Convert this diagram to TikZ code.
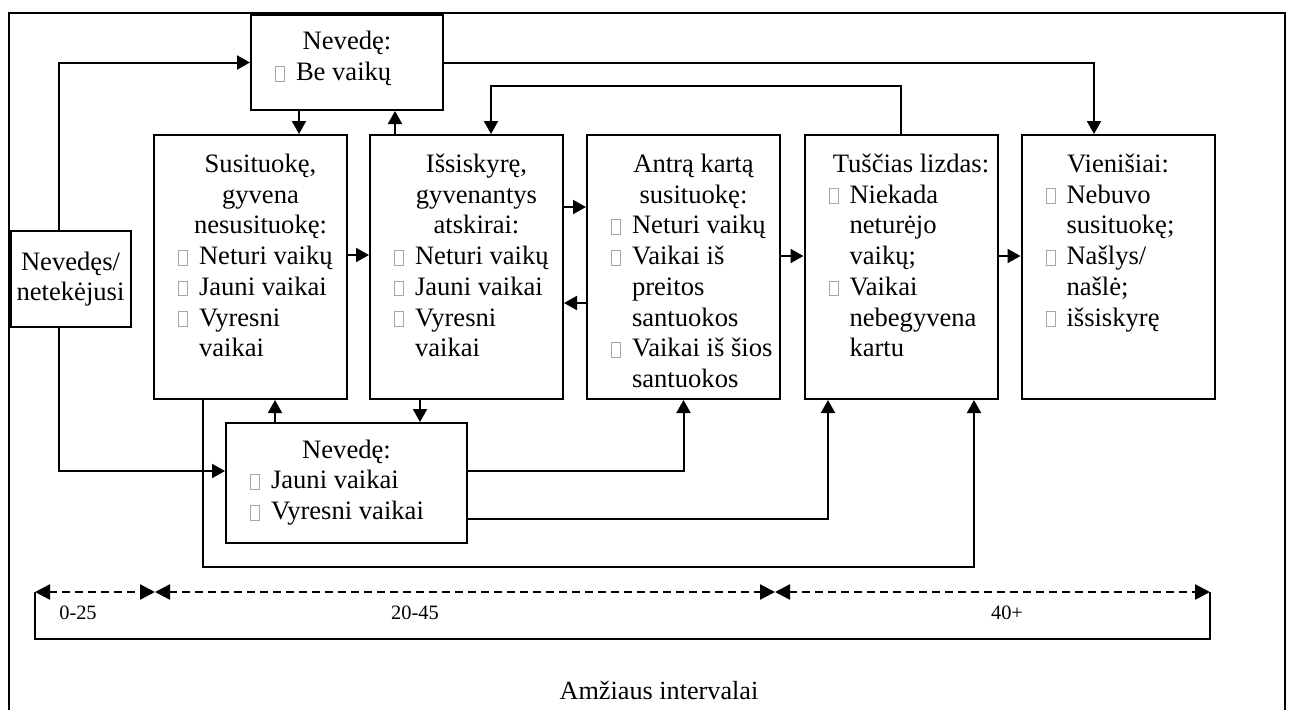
\documentclass[tikz,border=0pt]{standalone}
\usepackage{fontspec}
\setmainfont{Liberation Serif}
\usetikzlibrary{arrows.meta}

\newcommand{\bx}{{\color{black!35}\setlength{\fboxsep}{0pt}\setlength{\fboxrule}{0.4pt}\fbox{\rule{0pt}{7pt}\hspace{4.2pt}}}\hspace{5.5pt}}
\newcommand{\itm}[1]{\par\hangindent=10.5pt \hangafter=1 \noindent\bx #1\par}
\newcommand{\ctext}[5]{\hspace*{#1}\parbox[c][#4][t]{#2}{\strut #5}\hspace*{#3}}

\begin{document}
\begin{tikzpicture}[x = 0.5pt, y = -0.5pt, line width = 1pt, font = \fontsize{13.3}{15.35}\selectfont, >={Triangle[length = 6.5pt, width = 7pt]}, stage/.style = {draw, inner sep = 0pt, minimum height = 132pt}, agespan/.style = {dashed, dash pattern = on 4pt off 2.5pt, line width = 1.2pt, {Triangle[length = 7.5pt, width = 7.5pt]}-{Triangle[length = 7.5pt, width = 7.5pt]}}, age/.style = {font = \fontsize{10.2}{12}\selectfont}]
    \useasboundingbox (0,0) rectangle (1291,709);
    \draw[line width = 0.6pt] (9,712) -- (9,13) -- (1285,13) -- (1285,712);

    \node[draw, inner sep = 2pt, minimum width = 60pt, minimum height = 48pt, align = center] (nevedes) at (70.5,279) {Nevedęs/\\netekėjusi};
    \node[stage, minimum height = 47.5pt] (bevaiku) at (347,62.5) {\ctext{12pt}{72pt}{12pt}{34pt}{{\centering Nevedę:\par}\itm{Be vaikų}}};
    \node[stage] (nesus) at (250.5,267) {\ctext{12pt}{82.5pt}{2pt}{116pt}{{\centering Susituokę,\\ gyvena\\ nesusituokę:\par}\itm{Neturi vaikų}\itm{Jauni vaikai}\itm{Vyresni\\ vaikai}}};
    \node[stage] (skyrium) at (466.5,267) {\ctext{12pt}{82.5pt}{2pt}{116pt}{{\centering Išsiskyrę,\\ gyvenantys\\ atskirai:\par}\itm{Neturi vaikų}\itm{Jauni vaikai}\itm{Vyresni\\ vaikai}}};
    \node[stage] (antra) at (683.5,267) {\ctext{12pt}{82.5pt}{2pt}{116pt}{{\centering Antrą kartą\\ susituokę:\par}\itm{Neturi vaikų}\itm{Vaikai iš\\ preitos\\ santuokos}\itm{Vaikai iš šios\\ santuokos}}};
    \node[stage] (lizdas) at (901,267) {\ctext{12pt}{82.5pt}{2pt}{116pt}{{\centering Tuščias lizdas:\par}\itm{Niekada\\ neturėjo\\ vaikų;}\itm{Vaikai\\ nebegyvena\\ kartu}}};
    \node[stage] (vieni) at (1118,267) {\ctext{12pt}{72.5pt}{12pt}{116pt}{{\centering Vienišiai:\par}\itm{Nebuvo\\ susituokę;}\itm{Našlys/\\ našlė;}\itm{išsiskyrę}}};
    \node[stage, minimum height = 60pt] (vaikai) at (346.5,483) {\ctext{12pt}{96.5pt}{12pt}{46.4pt}{{\centering Nevedę:\par}\itm{Jauni vaikai}\itm{Vyresni vaikai}}};

    \draw[->] ([xshift = -5.75pt]nevedes.north) |- (bevaiku.west);
    \draw[->] ([xshift = -5.75pt]nevedes.south) |- ([yshift = 6pt]vaikai.west);
    \draw[->] (299,0 |- bevaiku.south) -- (299,0 |- nesus.north);
    \draw[->] (395,0 |- skyrium.north) -- (395,0 |- bevaiku.south);
    \draw[->] (bevaiku.east) -| (1094,0 |- vieni.north);
    \draw[->] (lizdas.north) -- ++(0,-48) -| (491,0 |- skyrium.north);
    \draw[->] (nesus.east |- 0,255) -- (skyrium.west |- 0,255);
    \draw[->] (skyrium.east |- 0,207) -- (antra.west |- 0,207);
    \draw[->] (antra.west |- 0,303) -- (skyrium.east |- 0,303);
    \draw[->] (antra.east |- 0,256) -- (lizdas.west |- 0,256);
    \draw[->] (lizdas.east |- 0,256) -- (vieni.west |- 0,256);
    \draw[->] (420,0 |- skyrium.south) -- (420,0 |- vaikai.north);
    \draw[->] (275,0 |- vaikai.north) -- (275,0 |- nesus.south);
    \draw[->] ([yshift = 6pt]vaikai.east) -| (antra.south);
    \draw[->] ([yshift = -18pt]vaikai.east) -| (828,0 |- lizdas.south);
    \draw[->] (203,0 |- nesus.south) |- (974,567) -- (974,0 |- lizdas.south);

    % age intervals
    \coordinate (a0) at (35,592);
    \coordinate (a1) at (155,592);
    \coordinate (a2) at (775,592);
    \coordinate (a3) at (1210,592);
    \draw[agespan] (a0) -- (a1);
    \draw[agespan] (a1) -- (a2);
    \draw[agespan] (a2) -- (a3);
    \draw[line width = 0.8pt] (a0) -- (35,639) -| (a3);
    \node[age] (l1) at (78,613) {0-25};
    \node[age] (l2) at (415,613) {20-45};
    \node[age] (l3) at (1007,613) {40+};
    \node[font = \fontsize{13.1}{15}\selectfont] (title) at (659,690) {Amžiaus intervalai};
\end{tikzpicture}
\end{document}
